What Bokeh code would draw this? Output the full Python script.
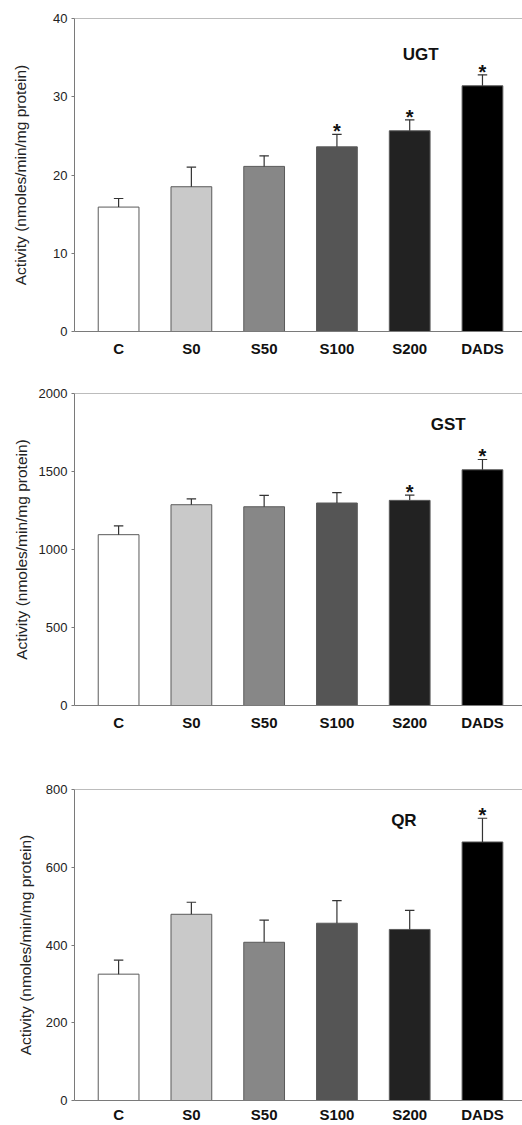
from bokeh.plotting import figure
from bokeh.layouts import column
from bokeh.models import Range1d, FixedTicker, Span
from bokeh.core.properties import value
from bokeh.embed import file_html
from bokeh.resources import INLINE

# ---- data ----
categories = ["C", "S0", "S50", "S100", "S200", "DADS"]
bar_colors = ["#ffffff", "#c9c9c9", "#878787", "#555555", "#222222", "#000000"]

ugt_mean = [15.9, 18.5, 21.1, 23.6, 25.65, 31.4]
ugt_sem = [1.1, 2.5, 1.35, 1.6, 1.4, 1.4]
ugt_sig = [False, False, False, True, True, True]
ugt_ticks = [0, 10, 20, 30, 40]

gst_mean = [1095, 1287, 1274, 1298, 1315, 1511]
gst_sem = [56, 37, 73, 66, 34, 66]
gst_sig = [False, False, False, False, True, True]
gst_ticks = [0, 500, 1000, 1500, 2000]

qr_mean = [325, 479, 407, 456, 440, 665]
qr_sem = [36, 31, 57, 58, 49, 61]
qr_sig = [False, False, False, False, False, True]
qr_ticks = [0, 200, 400, 600, 800]

ylabel = "Activity (nmoles/min/mg protein)"
FONT = "Liberation Sans"
AXIS_GREY = "#7a7a7a"


def panel(name, mean, sem, sig, ticks, name_pos, height, top, bottom,
          label_standoff, x_standoff):
    pos = list(range(len(categories)))
    p = figure(width=522, height=height, output_backend="svg",
               toolbar_location=None,
               x_range=Range1d(-0.606, 5.55),
               y_range=Range1d(ticks[0], ticks[-1]),
               min_border_left=74, min_border_right=0,
               min_border_top=top, min_border_bottom=bottom)
    p.outline_line_color = None
    p.xgrid.visible = False
    p.ygrid.visible = False
    p.background_fill_color = "white"
    p.border_fill_color = "white"

    p.vbar(x=pos, width=0.56, top=mean, bottom=0, fill_color=bar_colors,
           line_color="#5a5a5a", line_width=1)

    err_top = [m + s for m, s in zip(mean, sem)]
    p.segment(x0=pos, y0=mean, x1=pos, y1=err_top, line_color="#333333",
              line_width=1.2)
    cap_half = 0.065
    p.segment(x0=[x - cap_half for x in pos], y0=err_top,
              x1=[x + cap_half for x in pos], y1=err_top,
              line_color="#333333", line_width=1.2)

    sx = [x for x, s in zip(pos, sig) if s]
    sy = [e for e, s in zip(err_top, sig) if s]
    p.text(x=sx, y=sy, text=["*"] * len(sx), text_align="center",
           text_baseline="alphabetic", y_offset=-3,
           text_font=value(FONT), text_font_style="bold",
           text_font_size="20px", text_color="#111111")

    p.text(x=[name_pos[0]], y=[name_pos[1]], text=[name], text_align="center",
           text_baseline="middle", text_font=value(FONT),
           text_font_style="bold", text_font_size="17px",
           text_color="#111111")

    p.add_layout(Span(location=ticks[-1], dimension="width",
                      line_color=AXIS_GREY, line_width=1))

    # y axis
    ya = p.yaxis[0]
    ya.ticker = FixedTicker(ticks=ticks)
    ya.axis_label = ylabel
    ya.axis_label_text_font = FONT
    ya.axis_label_text_font_size = "15.5px"
    ya.axis_label_text_font_style = "normal"
    ya.axis_label_text_color = "#222222"
    ya.axis_label_standoff = label_standoff
    ya.major_label_text_font = FONT
    ya.major_label_text_font_size = "13px"
    ya.major_label_text_color = "#222222"
    ya.major_label_standoff = 4
    ya.axis_line_color = AXIS_GREY
    ya.major_tick_line_color = AXIS_GREY
    ya.major_tick_out = 3
    ya.major_tick_in = 0
    ya.minor_tick_line_color = None

    # x axis
    xa = p.xaxis[0]
    xa.ticker = FixedTicker(ticks=pos)
    xa.major_label_overrides = {i: c for i, c in enumerate(categories)}
    xa.major_label_text_font = FONT
    xa.major_label_text_font_size = "15px"
    xa.major_label_text_font_style = "bold"
    xa.major_label_text_color = "#111111"
    xa.major_label_standoff = x_standoff
    xa.axis_line_color = AXIS_GREY
    xa.major_tick_line_color = None
    xa.major_tick_out = 0
    xa.major_tick_in = 0
    xa.minor_tick_line_color = None
    xa.minor_tick_out = 0
    xa.minor_tick_in = 0
    return p


p1 = panel("UGT", ugt_mean, ugt_sem, ugt_sig, ugt_ticks, (4.15, 35.4),
           371, 18, 40, 21, 8)
p2 = panel("GST", gst_mean, gst_sem, gst_sig, gst_ticks, (4.53, 1804),
           374, 22, 40, 6, 8)
p3 = panel("QR", qr_mean, qr_sem, qr_sig, qr_ticks, (3.92, 720),
           380, 44, 24, 9, 5)

layout = column(p1, p2, p3, spacing=0)
open("out.html", "w").write(file_html(layout, INLINE))
